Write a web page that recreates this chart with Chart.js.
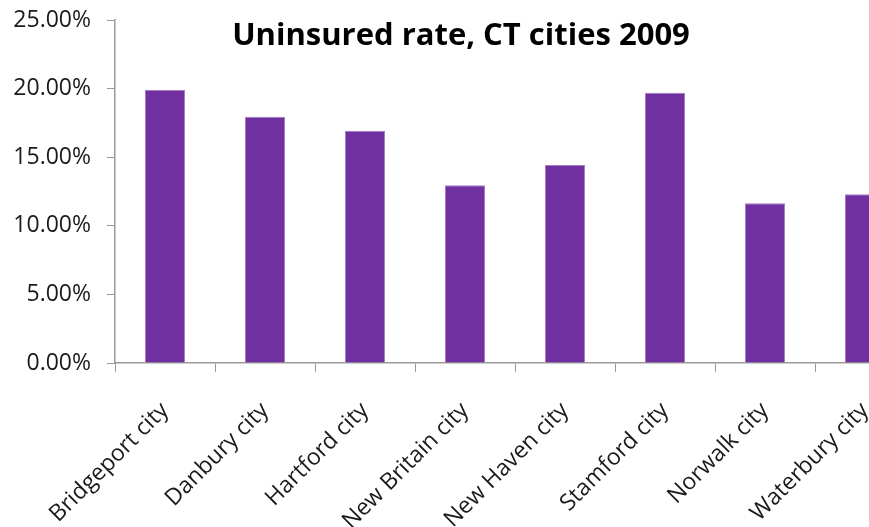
<!DOCTYPE html>
<html>
<head>
<meta charset="utf-8">
<script src="https://cdn.jsdelivr.net/npm/chart.js@4"></script>
<style>
  body { margin: 0; background: #fff; overflow: hidden; }
  #wrap { position: relative; width: 915px; height: 527px; }
  #title {
    position: absolute; left: 0; top: 12px; width: 922px; text-align: center;
    font-family: "Open Sans", sans-serif; font-weight: bold; font-size: 31px; color: #000;
  }
</style>
</head>
<body>
<div id="wrap">
  <canvas id="chart"></canvas>
  <div id="title">Uninsured rate, CT cities 2009</div>
</div>
<script>
const cities = ["Bridgeport city", "Danbury city", "Hartford city", "New Britain city",
  "New Haven city", "Stamford city", "Norwalk city", "Waterbury city"];
const uninsured = [19.9, 17.95, 16.93, 12.95, 14.43, 19.7, 11.64, 12.3];
const yTicks = [0, 5, 10, 15, 20, 25];

const axisGray = "#999999";
const font = { family: "Open Sans", size: 23 };

new Chart(document.getElementById("chart"), {
  type: "bar",
  data: {
    labels: cities,
    datasets: [{
      data: uninsured,
      backgroundColor: "#7030A0",
      borderColor: "#a47cc6",
      borderWidth: 1,
      barPercentage: 0.4,
      categoryPercentage: 1
    }]
  },
  options: {
    responsive: true,
    maintainAspectRatio: false,
    animation: false,
    layout: { padding: { top: 20, right: 0, left: 0, bottom: 0 } },
    plugins: { legend: { display: false }, tooltip: { enabled: false } },
    scales: {
      x: {
        grid: { offset: true, drawOnChartArea: false, color: axisGray, tickLength: 9 },
        border: { color: axisGray, width: 1.5 },
        ticks: { color: "#1a1a1a", font: font, minRotation: 45, maxRotation: 45, padding: 25 },
        afterFit: s => { s.height = 164; s.paddingLeft = 0; s.paddingRight = 0; }
      },
      y: {
        min: 0, max: 25,
        afterBuildTicks: s => { s.ticks = yTicks.map(v => ({ value: v })); },
        grid: { drawOnChartArea: false, color: axisGray, tickLength: 8 },
        border: { color: axisGray, width: 1.5 },
        ticks: { color: "#1a1a1a", font: font, padding: 16, callback: v => v.toFixed(2) + "%" },
        afterFit: s => { s.width = 115; s.paddingTop = 0; s.paddingBottom = 0; }
      }
    }
  }
});
</script>
</body>
</html>
